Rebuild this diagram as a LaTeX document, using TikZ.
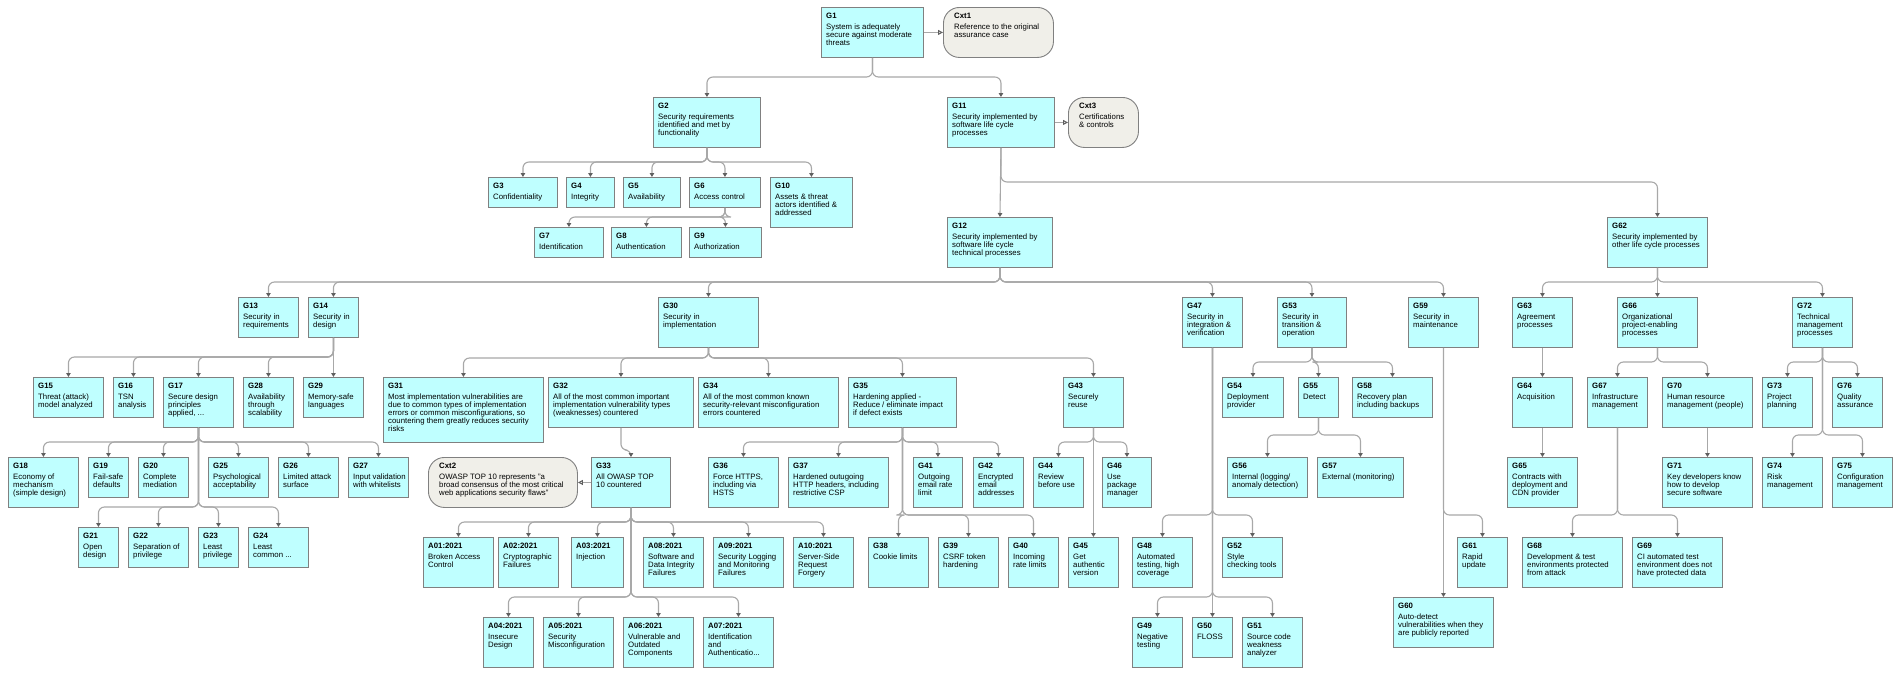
\documentclass[tikz,border=0pt]{standalone}
\usepackage{fontspec}
\setmainfont{Liberation Sans}
\usetikzlibrary{arrows.meta,calc}
\definecolor{gfill}{HTML}{BFFFFF}
\definecolor{gborder}{HTML}{808080}
\definecolor{cfill}{HTML}{F0EFE9}
\definecolor{eline}{HTML}{A8A8A8}
\definecolor{etip}{HTML}{606060}
\tikzset{
  goal/.style={draw=gborder, fill=gfill, line width=0.9pt, inner sep=0pt, anchor=north west},
  ctxs/.style={draw=gborder, fill=cfill, line width=0.9pt, inner sep=0pt, anchor=north west, rounded corners=16pt},
  gtext/.style={anchor=north west, inner sep=0pt, align=left, font=\fontsize{7.8}{8}\selectfont},
  edge/.style={draw=eline, line width=1.1pt, rounded corners=6pt, -{Triangle[length=4pt,width=4.5pt,color=etip]}},
  ctxedge/.style={draw=eline, line width=1pt, -{Triangle[open,length=5pt,width=5pt,color=etip]}}
}
\newcommand\gn[7]{%
  \node[goal, minimum width=#4pt, minimum height=#5pt] (#1) at (#2,#3) {};
  \node[gtext] at ([xshift=5pt,yshift=-6pt]#1.north west) {\textbf{#6}\\[3pt]#7};}
\newcommand\cn[7]{%
  \node[ctxs, minimum width=#4pt, minimum height=#5pt] (#1) at (#2,#3) {};
  \node[gtext] at ([xshift=11pt,yshift=-6pt]#1.north west) {\textbf{#6}\\[3pt]#7};}
\newcommand\ed[3]{\draw[edge] let \p1=(#1.south), \p2=(#2.north) in (\p1) -- (\x1,-#3pt) -| (\p2);}
\newcommand\es[2]{\draw[edge] (#1.south) -- (#2.north);}
\begin{document}
\begin{tikzpicture}[x=1pt,y=-1pt]
\fill[white] (0,0) rectangle (1904,678);
\useasboundingbox (0,0) rectangle (1904,678);
% --- edges first (behind nodes)
\begin{scope}[on background layer/.style={}]
\end{scope}
\gn{G1}{821}{7}{102}{50}{G1}{System is adequately\\secure against moderate\\threats}
\cn{Cxt1}{943}{7}{110}{50}{Cxt1}{Reference to the original\\assurance case}
\gn{G2}{653}{97}{107}{50}{G2}{Security requirements\\identified and met by\\functionality}
\gn{G11}{947}{97}{107}{50}{G11}{Security implemented by\\software life cycle\\processes}
\cn{Cxt3}{1068}{97}{70}{50}{Cxt3}{Certifications\\\& controls}
\gn{G3}{488}{177}{69}{30}{G3}{Confidentiality}
\gn{G4}{566}{177}{48}{30}{G4}{Integrity}
\gn{G5}{623}{177}{57}{30}{G5}{Availability}
\gn{G6}{689}{177}{71}{30}{G6}{Access control}
\gn{G10}{770}{177}{82}{50}{G10}{Assets \& threat\\actors identified \&\\addressed}
\gn{G7}{534}{227}{69}{30}{G7}{Identification}
\gn{G8}{611}{227}{70}{30}{G8}{Authentication}
\gn{G9}{689}{227}{72}{30}{G9}{Authorization}
\gn{G12}{947}{217}{105}{50}{G12}{Security implemented by\\software life cycle\\technical processes}
\gn{G62}{1607}{217}{100}{50}{G62}{Security implemented by\\other life cycle processes}
\gn{G13}{238}{297}{60}{40}{G13}{Security in\\requirements}
\gn{G14}{308}{297}{50}{40}{G14}{Security in\\design}
\gn{G30}{658}{297}{100}{50}{G30}{Security in\\implementation}
\gn{G47}{1182}{297}{60}{50}{G47}{Security in\\integration \&\\verification}
\gn{G53}{1277}{297}{69}{50}{G53}{Security in\\transition \&\\operation}
\gn{G59}{1408}{297}{70}{50}{G59}{Security in\\maintenance}
\gn{G63}{1512}{297}{60}{50}{G63}{Agreement\\processes}
\gn{G66}{1617}{297}{80}{50}{G66}{Organizational\\project-enabling\\processes}
\gn{G72}{1792}{297}{60}{50}{G72}{Technical\\management\\processes}
\gn{G15}{33}{377}{70}{40}{G15}{Threat (attack)\\model analyzed}
\gn{G16}{113}{377}{40}{40}{G16}{TSN\\analysis}
\gn{G17}{163}{377}{70}{50}{G17}{Secure design\\principles\\applied, ...}
\gn{G28}{243}{377}{50}{50}{G28}{Availability\\through\\scalability}
\gn{G29}{303}{377}{60}{40}{G29}{Memory-safe\\languages}
\gn{G31}{383}{377}{160}{65}{G31}{Most implementation vulnerabilities are\\due to common types of implementation\\errors or common misconfigurations, so\\countering them greatly reduces security\\risks}
\gn{G32}{548}{377}{145}{50}{G32}{All of the most common important\\implementation vulnerability types\\(weaknesses) countered}
\gn{G34}{698}{377}{140}{50}{G34}{All of the most common known\\security-relevant misconfiguration\\errors countered}
\gn{G35}{848}{377}{108}{50}{G35}{Hardening applied -\\Reduce / eliminate impact\\if defect exists}
\gn{G43}{1063}{377}{60}{50}{G43}{Securely\\reuse}
\gn{G54}{1222}{377}{61}{40}{G54}{Deployment\\provider}
\gn{G55}{1298}{377}{40}{40}{G55}{Detect}
\gn{G58}{1352}{377}{80}{40}{G58}{Recovery plan\\including backups}
\gn{G64}{1512}{377}{60}{50}{G64}{Acquisition}
\gn{G67}{1587}{377}{60}{50}{G67}{Infrastructure\\management}
\gn{G70}{1662}{377}{90}{50}{G70}{Human resource\\management (people)}
\gn{G73}{1762}{377}{50}{50}{G73}{Project\\planning}
\gn{G76}{1832}{377}{50}{50}{G76}{Quality\\assurance}
\gn{G18}{8}{457}{70}{50}{G18}{Economy of\\mechanism\\(simple design)}
\gn{G19}{88}{457}{40}{40}{G19}{Fail-safe\\defaults}
\gn{G20}{138}{457}{50}{40}{G20}{Complete\\mediation}
\gn{G25}{208}{457}{60}{40}{G25}{Psychological\\acceptability}
\gn{G26}{278}{457}{60}{40}{G26}{Limited attack\\surface}
\gn{G27}{348}{457}{60}{40}{G27}{Input validation\\with whitelists}
\cn{Cxt2}{428}{457}{149}{50}{Cxt2}{OWASP TOP 10 represents "a\\broad consensus of the most critical\\web applications security flaws"}
\gn{G33}{591}{457}{79}{50}{G33}{All OWASP TOP\\10 countered}
\gn{G36}{708}{457}{70}{50}{G36}{Force HTTPS,\\including via\\HSTS}
\gn{G37}{788}{457}{100}{50}{G37}{Hardened outugoing\\HTTP headers, including\\restrictive CSP}
\gn{G41}{913}{457}{49}{50}{G41}{Outgoing\\email rate\\limit}
\gn{G42}{973}{457}{50}{50}{G42}{Encrypted\\email\\addresses}
\gn{G44}{1033}{457}{50}{50}{G44}{Review\\before use}
\gn{G46}{1102}{457}{49}{50}{G46}{Use\\package\\manager}
\gn{G56}{1227}{457}{80}{40}{G56}{Internal (logging/\\anomaly detection)}
\gn{G57}{1317}{457}{86}{40}{G57}{External (monitoring)}
\gn{G65}{1507}{457}{70}{50}{G65}{Contracts with\\deployment and\\CDN provider}
\gn{G71}{1662}{457}{90}{50}{G71}{Key developers know\\how to develop\\secure software}
\gn{G74}{1762}{457}{60}{50}{G74}{Risk\\management}
\gn{G75}{1832}{457}{60}{50}{G75}{Configuration\\management}
\gn{G21}{78}{527}{40}{40}{G21}{Open\\design}
\gn{G22}{128}{527}{60}{40}{G22}{Separation of\\privilege}
\gn{G23}{198}{527}{40}{40}{G23}{Least\\privilege}
\gn{G24}{248}{527}{60}{40}{G24}{Least\\common ...}
\gn{A01}{423}{537}{70}{50}{A01:2021}{Broken Access\\Control}
\gn{A02}{498}{537}{60}{50}{A02:2021}{Cryptographic\\Failures}
\gn{A03}{571}{537}{52}{50}{A03:2021}{Injection}
\gn{A08}{643}{537}{60}{50}{A08:2021}{Software and\\Data Integrity\\Failures}
\gn{A09}{713}{537}{70}{50}{A09:2021}{Security Logging\\and Monitoring\\Failures}
\gn{A10}{793}{537}{60}{50}{A10:2021}{Server-Side\\Request\\Forgery}
\gn{G38}{868}{537}{60}{50}{G38}{Cookie limits}
\gn{G39}{938}{537}{60}{50}{G39}{CSRF token\\hardening}
\gn{G40}{1008}{537}{50}{50}{G40}{Incoming\\rate limits}
\gn{G45}{1068}{537}{50}{50}{G45}{Get\\authentic\\version}
\gn{G48}{1132}{537}{60}{50}{G48}{Automated\\testing, high\\coverage}
\gn{G52}{1222}{537}{60}{40}{G52}{Style\\checking tools}
\gn{G61}{1457}{537}{50}{50}{G61}{Rapid\\update}
\gn{G68}{1522}{537}{100}{50}{G68}{Development \& test\\environments protected\\from attack}
\gn{G69}{1632}{537}{90}{50}{G69}{CI automated test\\environment does not\\have protected data}
\gn{A04}{483}{617}{50}{50}{A04:2021}{Insecure\\Design}
\gn{A05}{543}{617}{70}{50}{A05:2021}{Security\\Misconfiguration}
\gn{A06}{623}{617}{70}{50}{A06:2021}{Vulnerable and\\Outdated\\Components}
\gn{A07}{703}{617}{70}{50}{A07:2021}{Identification\\and\\Authenticatio...}
\gn{G49}{1132}{617}{50}{50}{G49}{Negative\\testing}
\gn{G50}{1192}{617}{40}{40}{G50}{FLOSS}
\gn{G51}{1242}{617}{60}{50}{G51}{Source code\\weakness\\analyzer}
\gn{G60}{1393}{597}{100}{50}{G60}{Auto-detect\\vulnerabilities when they\\are publicly reported}
% --- connectors
\foreach \c in {G2,G11}{\ed{G1}{\c}{77}}
\foreach \c in {G3,G4,G5,G6,G10}{\ed{G2}{\c}{162}}
\foreach \c in {G7,G8,G9}{\ed{G6}{\c}{217}}
\es{G11}{G12}
\ed{G11}{G62}{182}
\foreach \c in {G13,G14,G30,G47,G53,G59}{\ed{G12}{\c}{282}}
\foreach \c in {G15,G16,G17,G28,G29}{\ed{G14}{\c}{357}}
\foreach \c in {G18,G19,G20,G25,G26,G27}{\ed{G17}{\c}{442}}
\foreach \c in {G21,G22,G23,G24}{\ed{G17}{\c}{507}}
\foreach \c in {G31,G32,G34,G35,G43}{\ed{G30}{\c}{358}}
\ed{G32}{G33}{450}
\foreach \c in {A01,A02,A03,A08,A09,A10}{\ed{G33}{\c}{522}}
\foreach \c in {A04,A05,A06,A07}{\ed{G33}{\c}{597}}
\foreach \c in {G36,G37,G41,G42}{\ed{G35}{\c}{442}}
\foreach \c in {G38,G39,G40}{\ed{G35}{\c}{515}}
\foreach \c in {G44,G46}{\ed{G43}{\c}{442}}
\es{G43}{G45}
\foreach \c in {G48,G52}{\ed{G47}{\c}{515}}
\foreach \c in {G49,G50,G51}{\ed{G47}{\c}{597}}
\foreach \c in {G54,G55,G58}{\ed{G53}{\c}{362}}
\foreach \c in {G56,G57}{\ed{G55}{\c}{435}}
\ed{G59}{G61}{515}
\es{G59}{G60}
\foreach \c in {G63,G66,G72}{\ed{G62}{\c}{282}}
\es{G63}{G64}
\es{G64}{G65}
\foreach \c in {G67,G70}{\ed{G66}{\c}{362}}
\es{G70}{G71}
\foreach \c in {G68,G69}{\ed{G67}{\c}{515}}
\foreach \c in {G73,G76}{\ed{G72}{\c}{362}}
\foreach \c in {G74,G75}{\ed{G72}{\c}{435}}
\draw[ctxedge] (G1.east) -- (Cxt1.west);
\draw[ctxedge] (G11.east) -- (Cxt3.west);
\draw[ctxedge] (G33.west) -- (Cxt2.east);
\end{tikzpicture}
\end{document}
